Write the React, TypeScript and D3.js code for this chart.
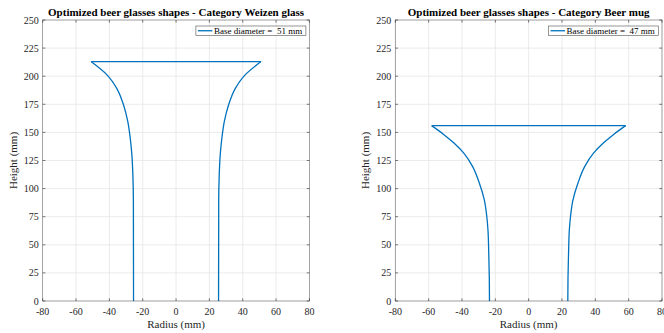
import React from "react";
import * as d3 from "d3";

const W = 664;
const H = 333;

const xTicks = [-80, -60, -40, -20, 0, 20, 40, 60, 80];
const yTicks = [0, 25, 50, 75, 100, 125, 150, 175, 200, 225, 250];

const weizenTitle = "Optimized beer glasses shapes - Category Weizen glass";
const weizenLegend = "Base diameter =  51 mm";
const weizenHeights = [0, 90, 112, 130, 145, 160, 174, 189, 201, 213];
const weizenRadii = [25.5, 25.6, 25.9, 26.5, 27.5, 29.0, 31.4, 35.5, 41.3, 51.0];

const mugTitle = "Optimized beer glasses shapes - Category Beer mug";
const mugLegend = "Base diameter =  47 mm";
const mugHeights = [0, 20, 40, 63, 75, 90, 105, 119.5, 131.5, 140.5, 148, 156];
const mugRadii = [23.5, 23.6, 23.9, 24.4, 25.1, 26.6, 29.6, 33.6, 38.9, 44.8, 50.8, 58.2];

const FONT = "'Liberation Serif', 'DejaVu Serif', serif";
const BLUE = "#0072BD";
const AXIS = "#262626";

type PanelProps = {
  left: number;
  title: string;
  legend: string;
  heights: number[];
  radii: number[];
};

function Panel({ left, title, legend, heights, radii }: PanelProps) {
  const top = 20;
  const bottom = 301;
  const width = 266.7;
  const x = d3.scaleLinear().domain([-80, 80]).range([left, left + width]);
  const y = d3.scaleLinear().domain([0, 250]).range([bottom, top]);

  const line = d3
    .line<[number, number]>()
    .x((d) => x(d[0]))
    .y((d) => y(d[1]))
    .curve(d3.curveMonotoneY);

  // order from top (highest h) to bottom so that screen y increases
  const order = heights.map((_, i) => i).reverse();
  const rightSide: [number, number][] = order.map((i) => [radii[i], heights[i]]);
  const leftSide: [number, number][] = order.map((i) => [-radii[i], heights[i]]);
  const n = heights.length - 1;
  const topLine = d3.line<[number, number]>().x((d) => x(d[0])).y((d) => y(d[1]))([
    [-radii[n], heights[n]],
    [radii[n], heights[n]],
  ]);

  const tl = 2.7;
  const legW = 110;
  const legX = left + width - 3.5 - legW;
  const legY = top + 6;
  const txt = { fontFamily: FONT };

  return (
    <g>
      {xTicks.map((t) => (
        <line key={"gx" + t} x1={x(t)} x2={x(t)} y1={top} y2={bottom} stroke="#e6e6e6" strokeWidth={0.8} />
      ))}
      {yTicks.map((t) => (
        <line key={"gy" + t} x1={left} x2={left + width} y1={y(t)} y2={y(t)} stroke="#e6e6e6" strokeWidth={0.8} />
      ))}
      <path d={line(leftSide) || ""} fill="none" stroke={BLUE} strokeWidth={1.3} />
      <path d={line(rightSide) || ""} fill="none" stroke={BLUE} strokeWidth={1.3} />
      <path d={topLine || ""} fill="none" stroke={BLUE} strokeWidth={1.3} />
      <rect x={left} y={top} width={width} height={bottom - top} fill="none" stroke={AXIS} strokeWidth={0.6} strokeOpacity={0.6} />
      {xTicks.map((t) => (
        <g key={"tx" + t}>
          <line x1={x(t)} x2={x(t)} y1={bottom} y2={bottom - tl} stroke={AXIS} strokeWidth={0.6} />
          <line x1={x(t)} x2={x(t)} y1={top} y2={top + tl} stroke={AXIS} strokeWidth={0.6} />
          <text x={x(t)} y={314.5} textAnchor="middle" fontSize={10} style={txt} fill={AXIS}>
            {t}
          </text>
        </g>
      ))}
      {yTicks.map((t) => (
        <g key={"ty" + t}>
          <line x1={left} x2={left + tl} y1={y(t)} y2={y(t)} stroke={AXIS} strokeWidth={0.6} />
          <line x1={left + width} x2={left + width - tl} y1={y(t)} y2={y(t)} stroke={AXIS} strokeWidth={0.6} />
          <text x={left - 4} y={y(t) + 3.5} textAnchor="end" fontSize={10} style={txt} fill={AXIS}>
            {t}
          </text>
        </g>
      ))}
      <text x={left + width / 2} y={328} textAnchor="middle" fontSize={11} style={txt} fill={AXIS}>
        Radius (mm)
      </text>
      <text
        transform={`translate(${left - 26},${(top + bottom) / 2}) rotate(-90)`}
        textAnchor="middle"
        fontSize={11}
        style={txt}
        fill={AXIS}
      >
        Height (mm)
      </text>
      <text x={left + width / 2} y={16} textAnchor="middle" fontSize={11} fontWeight="bold" style={txt} fill="#000">
        {title}
      </text>
      <rect x={legX} y={legY} width={legW} height={9.5} fill="#fff" stroke={AXIS} strokeWidth={0.6} strokeOpacity={0.8} />
      <line x1={legX + 2} x2={legX + 16.5} y1={legY + 4.75} y2={legY + 4.75} stroke={BLUE} strokeWidth={1.3} />
      <text x={legX + 18} y={legY + 8} fontSize={9} style={{ ...txt, whiteSpace: "pre" }} fill="#000">
        {legend}
      </text>
    </g>
  );
}

export default function App() {
  return (
    <svg width={W} height={H} style={{ position: "absolute", left: 0, top: 0, background: "#fff" }}>
      <Panel left={42.7} title={weizenTitle} legend={weizenLegend} heights={weizenHeights} radii={weizenRadii} />
      <Panel left={395.3} title={mugTitle} legend={mugLegend} heights={mugHeights} radii={mugRadii} />
    </svg>
  );
}
